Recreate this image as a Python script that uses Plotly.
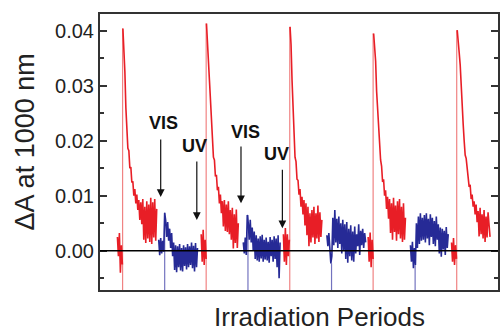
import plotly.graph_objects as go

# ---- data (time in arbitrary units across the irradiation periods; dA in 10^-3) ----
spike_t = [22.7, 106.7, 190.7, 274.5, 358.5]          # UV pulse onsets (red spikes)
spike_peak = [40.4, 41.3, 40.7, 39.5, 40.1]
vis_t = [65.0, 148.7, 232.7, 316.7]                    # VIS onsets (blue lines)
vis_top = [6.9, 6.5, -2.3, -2.6]

dark_start = [17.5, 101.7, 184.3, 269.5, 353.3]
dark_1 = [2.5, -1.0, 3.2, -4.0, 1.0, -2.5]
dark_2 = [3.0, -2.0, 3.8, -2.6, 2.0, -1.5]
dark_3 = [3.0, -2.0, 4.1, -2.6, 3.0, -1.0, 2.0]
dark_4 = [2.5, -2.0, 3.3, -3.0, 2.0, -1.5]
dark_5 = [1.5, -2.0, 2.3, -2.6, 1.0, -1.5]

decay_start = [23, 107, 191, 275, 359]
decay_1 = [40.4, 37.0, 32.5, 26.0, 22.8, 18.6, 18.2, 15.0, 15.2, 12.4, 12.6, 10.0,
           11.2, 8.6, 10.2, 7.4, 9.2, 5.6, 8.8, 4.8, 9.4, 2.0, 8.0, 1.4, 9.0, 2.2,
           8.4, 1.6, 9.6, 1.2, 8.8, 2.4, 9.4, 1.8, 7.6]
decay_2 = [41.3, 38.5, 35.0, 31.0, 27.5, 22.0, 20.5, 17.0, 16.5, 13.5, 13.8, 11.0,
           11.6, 8.6, 10.2, 6.8, 9.0, 4.4, 9.2, 3.6, 8.4, 3.4, 9.0, 3.0, 7.4, 2.0,
           7.8, 0.4, 6.6, 1.4, 7.5, 0.5, 5.0]
decay_3 = [40.7, 37.5, 31.0, 25.0, 21.5, 17.0, 16.2, 13.0, 12.8, 10.2, 11.2, 8.0,
           9.8, 6.6, 9.2, 4.6, 8.6, 2.8, 8.0, 0.8, 6.8, 1.5, 7.4, 2.4, 8.0, 1.2,
           6.8, 2.2, 8.2, 1.6, 7.0, 2.5, 5.6]
decay_4 = [39.5, 37.0, 34.5, 29.0, 26.0, 21.0, 19.5, 16.5, 15.4, 12.5, 13.0, 10.0,
           11.0, 7.6, 9.8, 5.8, 9.4, 3.2, 8.6, 2.0, 9.6, 3.4, 8.2, 1.8, 9.0, 3.0,
           9.4, 2.2, 8.0, 1.6, 8.6, 2.0, 6.0]
decay_5 = [40.1, 38.5, 36.0, 33.8, 29.0, 24.7, 23.0, 20.0, 17.4, 16.8, 14.5, 13.5,
           11.6, 12.0, 9.4, 10.2, 8.0, 9.0, 6.6, 8.4, 5.2, 7.2, 2.6, 7.8, 3.0, 6.6,
           2.2, 7.4, 1.6, 6.2, 2.4, 7.0, 3.4, 2.5]

vis_start = [59, 144, 228, 312]
vis_1 = [2.0, -0.8, 2.3, -0.5, 1.8, -0.2, 6.9, 5.5, 2.5, 5.2, 1.8, 4.0, 0.5, 3.2,
         -1.0, 1.5, -3.5, 1.0, -3.9, 0.8, -3.0, 1.2, -3.6, 0.5, -3.8, 1.0, -2.8,
         0.6, -3.4, 1.2, -3.0, 0.8, -2.6, 1.5, -3.2, 0.9, -3.8, 1.4, -3.0, 0.5]
vis_2 = [1.5, -0.5, 2.4, -0.8, 6.5, 5.0, 2.0, 5.6, 1.5, 4.2, 0.0, 3.5, -1.5, 2.8,
         -1.8, 2.2, -2.0, 2.6, -1.4, 2.9, -2.0, 2.0, -1.6, 2.4, -1.8, 1.6, -2.2,
         2.5, -1.0, 2.0, -2.0, 2.6, -1.5, 2.2, -3.0, 2.8, -5.0, 1.5]
vis_3 = [2.8, 0.8, 3.2, 0.2, -2.3, -1.0, 6.0, 1.0, 7.4, 1.5, 5.8, 0.5, 6.2, 1.2,
         5.0, -0.5, 5.6, 0.0, 4.8, -1.5, 5.2, -2.2, 4.0, -1.0, 4.6, -1.8, 3.5,
         -2.0, 4.4, -0.5, 3.0, 0.8, 4.8, -0.8, 3.6, 1.0, 4.0, 0.5, 3.2, 1.5]
vis_4 = [1.0, -2.0, 1.6, -3.2, 0.5, -2.6, 5.0, 0.5, 6.2, 1.2, 6.8, 1.8, 6.0, 2.0,
         6.5, 1.5, 6.8, 2.2, 5.8, 1.0, 6.6, 2.5, 6.0, 1.2, 5.4, 0.8, 6.2, 2.0,
         4.8, -0.5, 4.2, -1.1, 4.0, 0.2, 3.6, -0.8, 4.3, 0.5, 3.0]

y_ticks = [0.00, 0.01, 0.02, 0.03, 0.04]
y_ticktext = ["0.00", "0.01", "0.02", "0.03", "0.04"]

# ---- build ----
SCALE = 1e-3
Y_LOW = -0.00715
Y_HIGH = 0.04304
RED = "rgb(232,30,38)"
BLUE = "rgb(38,42,150)"


def join(starts, segs):
    xs, ys = [], []
    for s, seg in zip(starts, segs):
        for i, v in enumerate(seg):
            xs.append(s + i)
            ys.append(v * SCALE)
        xs.append(None)
        ys.append(None)
    return xs, ys


rx1, ry1 = join(dark_start, [dark_1, dark_2, dark_3, dark_4, dark_5])
rx2, ry2 = join(decay_start, [decay_1, decay_2, decay_3, decay_4, decay_5])
bx, by = join(vis_start, [vis_1, vis_2, vis_3, vis_4])

fig = go.Figure()

# vertical onset lines
sx, sy = [], []
for t, p in zip(spike_t, spike_peak):
    sx += [t, t, None]
    sy += [Y_LOW - 0.002, p * SCALE, None]
fig.add_trace(go.Scatter(x=sx, y=sy, mode="lines",
                         line=dict(color="rgba(235,90,90,0.75)", width=1.2),
                         hoverinfo="skip", showlegend=False))
vx, vy = [], []
for t, p in zip(vis_t, vis_top):
    vx += [t, t, None]
    vy += [Y_LOW - 0.002, p * SCALE, None]
fig.add_trace(go.Scatter(x=vx, y=vy, mode="lines",
                         line=dict(color="rgba(80,80,175,0.8)", width=1.2),
                         hoverinfo="skip", showlegend=False))

fig.add_trace(go.Scatter(x=rx1 + rx2, y=ry1 + ry2, mode="lines",
                         line=dict(color=RED, width=1.6), showlegend=False))
fig.add_trace(go.Scatter(x=bx, y=by, mode="lines",
                         line=dict(color=BLUE, width=1.6), showlegend=False))

# zero line on top
fig.add_shape(type="line", xref="paper", x0=0, x1=1, yref="y", y0=0, y1=0,
              line=dict(color="black", width=1.6), layer="above")

# arrows with labels (text x, text y, arrow x, tip y, tail y)
arrows = [
    ("VIS", 64, 0.02322, 61.0, 0.00976, 0.02049),
    ("UV", 95, 0.01895, 97.3, 0.00558, 0.01649),
    ("VIS", 146, 0.02167, 141.7, 0.00862, 0.01922),
    ("UV", 177, 0.01767, 183.3, 0.00407, 0.01498),
]
for txt, tx, ty, axx, tipy, taily in arrows:
    fig.add_annotation(x=tx, y=ty, text="<b>%s</b>" % txt, showarrow=False,
                       font=dict(family="Liberation Sans, Arial", size=18, color="#111"),
                       xanchor="center", yanchor="middle")
    fig.add_annotation(x=axx, y=tipy, ax=axx, ay=taily, axref="x", ayref="y",
                       text="", showarrow=True, arrowhead=2, arrowsize=1.3,
                       arrowwidth=1.2, arrowcolor="#111", standoff=0)

# titles
fig.add_annotation(text="\u0394A at 1000 nm", xref="paper", yref="paper",
                   x=-0.1875, y=0.536, textangle=-90, showarrow=False,
                   xanchor="center", yanchor="middle",
                   font=dict(family="Liberation Sans, Arial", size=27, color="#222"))
fig.add_annotation(text="Irradiation Periods", xref="paper", yref="paper",
                   x=0.5525, y=-0.098, showarrow=False,
                   xanchor="center", yanchor="middle",
                   font=dict(family="Liberation Sans, Arial", size=26, color="#222"))

fig.update_layout(
    width=502, height=335,
    margin=dict(l=100, r=2, t=14, b=45),
    paper_bgcolor="white", plot_bgcolor="white",
    font=dict(family="Liberation Sans, Arial", color="#222"),
    xaxis=dict(range=[0, 400], showticklabels=False, ticks="", showgrid=False,
               zeroline=False, showline=True, linecolor="#333", linewidth=2,
               mirror=True),
    yaxis=dict(range=[Y_LOW, Y_HIGH], tickvals=y_ticks, ticktext=y_ticktext,
               ticks="inside", ticklen=7, tickwidth=1.5, tickcolor="#333",
               showgrid=False, zeroline=False, showline=True, linecolor="#333",
               linewidth=2, mirror="ticks", tickfont=dict(size=20, color="#222"),
               minor=dict(ticks="inside", ticklen=4, tickwidth=1.5,
                          tickcolor="#333", dtick=0.005, tick0=0, showgrid=False)),
)

fig.write_html("out.html")
